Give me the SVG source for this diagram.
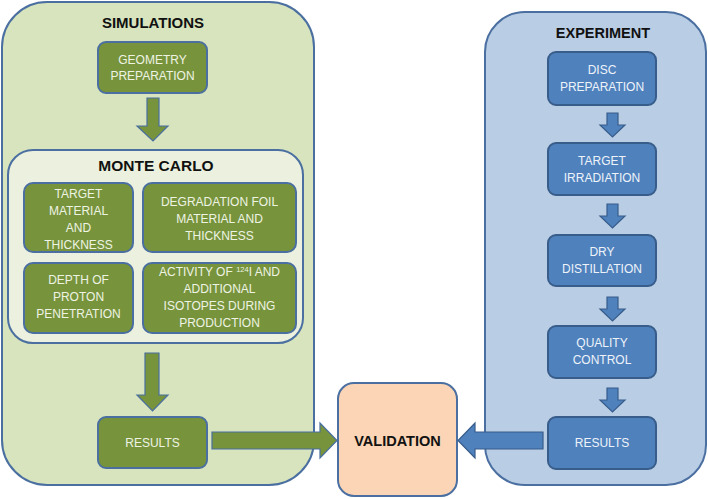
<svg xmlns="http://www.w3.org/2000/svg" width="708" height="499" viewBox="0 0 708 499">
<style>
.t{font-family:"Liberation Sans",Arial,sans-serif;text-anchor:middle}
.title{font-weight:bold;fill:#111;font-size:15px}
.gbox{fill:#77933c;stroke:#4a6fa0;stroke-width:2}
.bbox{fill:#4f81bd;stroke:#385d8a;stroke-width:2}
.wt{fill:#eef3e4;font-size:12px}
.bt{fill:#eef3f9;font-size:12px}
.garr{fill:#77933c;stroke:#4a6fa0;stroke-width:1.2}
.barr{fill:#4f81bd;stroke:#385d8a;stroke-width:1.2}
</style>
<rect width="708" height="499" fill="#ffffff"/>
<g id="simulations">
<rect x="2" y="2" width="312" height="483" rx="45" fill="#d7e4bd" stroke="#4a6fa0" stroke-width="2"/>
<text class="t title" x="153" y="28">SIMULATIONS</text>
</g>
<g id="experiment">
<rect x="485" y="12" width="221" height="473" rx="40" fill="#b9cde5" stroke="#4a6fa0" stroke-width="2"/>
<text class="t title" x="603" y="38" style="font-size:14.5px">EXPERIMENT</text>
</g>
<g id="geometry">
<rect class="gbox" x="98" y="42" width="109" height="51" rx="8"/>
<text class="t wt" x="152.5" y="64">GEOMETRY</text>
<text class="t wt" x="152.5" y="80">PREPARATION</text>
</g>
<g id="montecarlo">
<rect x="8" y="150" width="295" height="193" rx="25" fill="#ebf1de" stroke="#4a6fa0" stroke-width="2"/>
<text class="t title" x="156" y="171" style="font-size:15.5px">MONTE CARLO</text>
</g>
<g id="target-material">
<rect class="gbox" x="24" y="183" width="109" height="69" rx="9"/>
<text class="t wt" x="78.5" y="198">TARGET</text>
<text class="t wt" x="78.5" y="215">MATERIAL</text>
<text class="t wt" x="78.5" y="232">AND</text>
<text class="t wt" x="78.5" y="249">THICKNESS</text>
</g>
<g id="degradation-foil">
<rect class="gbox" x="143" y="183" width="153" height="69" rx="9"/>
<text class="t wt" x="219.5" y="206">DEGRADATION FOIL</text>
<text class="t wt" x="219.5" y="223">MATERIAL  AND</text>
<text class="t wt" x="219.5" y="240">THICKNESS</text>
</g>
<g id="depth-proton">
<rect class="gbox" x="24" y="263" width="109" height="70" rx="9"/>
<text class="t wt" x="78.5" y="284">DEPTH OF</text>
<text class="t wt" x="78.5" y="301">PROTON</text>
<text class="t wt" x="78.5" y="318">PENETRATION</text>
</g>
<g id="activity">
<rect class="gbox" x="143" y="263" width="153" height="70" rx="9"/>
<text class="t wt" x="219.5" y="276">ACTIVITY OF <tspan font-size="7.5px" dy="-4">124</tspan><tspan dy="4">I AND</tspan></text>
<text class="t wt" x="219.5" y="293">ADDITIONAL</text>
<text class="t wt" x="219.5" y="310">ISOTOPES DURING</text>
<text class="t wt" x="219.5" y="327">PRODUCTION</text>
</g>
<g id="sim-results">
<rect class="gbox" x="98" y="417" width="109" height="51" rx="8"/>
<text class="t wt" x="152.5" y="447">RESULTS</text>
</g>
<g id="validation">
<rect x="338" y="383" width="119" height="113" rx="16" fill="#fbd5b5" stroke="#4a6fa0" stroke-width="2"/>
<text class="t title" x="397.5" y="446" style="font-size:14.5px">VALIDATION</text>
</g>
<g id="disc">
<rect class="bbox" x="548" y="52" width="108" height="53" rx="8"/>
<text class="t bt" x="602" y="74">DISC</text>
<text class="t bt" x="602" y="91">PREPARATION</text>
</g>
<g id="irradiation">
<rect class="bbox" x="548" y="143" width="108" height="52" rx="8"/>
<text class="t bt" x="602" y="165">TARGET</text>
<text class="t bt" x="602" y="182">IRRADIATION</text>
</g>
<g id="distillation">
<rect class="bbox" x="548" y="235" width="108" height="51" rx="8"/>
<text class="t bt" x="602" y="256">DRY</text>
<text class="t bt" x="602" y="273">DISTILLATION</text>
</g>
<g id="quality">
<rect class="bbox" x="548" y="326" width="108" height="52" rx="8"/>
<text class="t bt" x="602" y="347">QUALITY</text>
<text class="t bt" x="602" y="364">CONTROL</text>
</g>
<g id="exp-results">
<rect class="bbox" x="548" y="417" width="108" height="52" rx="8"/>
<text class="t bt" x="602" y="447">RESULTS</text>
</g>
<g id="connectors">
<path class="garr" d="M147,98 H159 V126 H168 L153,141 L137,126 H147 Z"/>
<path class="garr" d="M145,353 H159 V395 H168 L152.5,411 L137,395 H145 Z"/>
<path class="garr" d="M212,432 H320 V423 L337,440.5 L320,458 V449 H212 Z"/>
<path class="barr" d="M543,432 H475 V423 L458,440.5 L475,458 V449 H543 Z"/>
<path class="barr" d="M607,113 H618 V125 H625 L612.5,137 L600,125 H607 Z"/>
<path class="barr" d="M607,204 H618 V216 H625 L612.5,228 L600,216 H607 Z"/>
<path class="barr" d="M607,297 H618 V309 H625 L612.5,321 L600,309 H607 Z"/>
<path class="barr" d="M607,388 H618 V400 H625 L612.5,412 L600,400 H607 Z"/>
</g>
</svg>
